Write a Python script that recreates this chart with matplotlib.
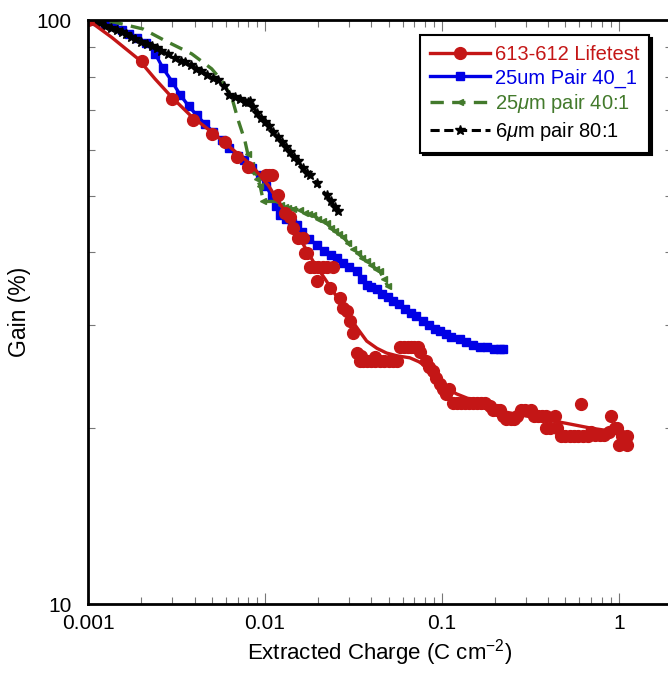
import matplotlib.pyplot as plt
from matplotlib.lines import Line2D

plt.rcParams['font.family'] = ['Liberation Sans', 'DejaVu Sans']
plt.rcParams['mathtext.fontset'] = 'custom'
plt.rcParams['mathtext.rm'] = 'Liberation Sans'
plt.rcParams['mathtext.it'] = 'Liberation Sans:italic'

# 613-612 Lifetest: measured points
red_x = [0.001, 0.00201, 0.00299, 0.00394, 0.0050, 0.00594, 0.00692, 0.00805,
         0.0102, 0.0106, 0.0109, 0.0119, 0.0130, 0.0138, 0.0144, 0.0154, 0.0164,
         0.0168, 0.0172, 0.0179, 0.0190, 0.0200, 0.0212, 0.0225, 0.0243, 0.0196,
         0.0233, 0.0265, 0.0277, 0.0290, 0.0302, 0.0315,
         0.0330, 0.0345, 0.0360, 0.0380, 0.0400, 0.0420, 0.0445, 0.0470, 0.0500,
         0.0530, 0.0560, 0.0350, 0.0420,
         0.0580, 0.0610, 0.0640, 0.0670, 0.0700, 0.0730, 0.0750,
         0.0819, 0.0850, 0.0893, 0.0930, 0.0975, 0.1020, 0.1060, 0.1100,
         0.1160, 0.1220, 0.1280, 0.1350, 0.1420, 0.1500, 0.1580, 0.1670, 0.1750,
         0.1860, 0.1940, 0.2050, 0.2130, 0.2220, 0.2320, 0.2450, 0.2560, 0.2650,
         0.2790, 0.2950, 0.3180, 0.3300, 0.3500, 0.3700, 0.3900, 0.3900, 0.4100,
         0.4340, 0.4500, 0.4700, 0.5000, 0.5300, 0.5600, 0.5900, 0.6120, 0.6300,
         0.6700, 0.7000, 0.7300, 0.7800, 0.8300, 0.8800, 0.9050, 0.9500, 0.9800,
         1.0000, 1.0500, 1.1200, 1.1200]
red_y = [100, 85.2, 73.3, 67.5, 63.9, 61.8, 58.3, 56.1,
         54.2, 54.2, 54.2, 50.1, 46.7, 46.0, 44.0, 42.3, 42.3,
         39.9, 39.9, 37.8, 37.8, 37.8, 37.8, 37.8, 37.8, 35.7,
         34.8, 33.4, 32.1, 31.7, 30.5, 29.1,
         26.9, 26.1, 26.1, 26.1, 26.1, 26.1, 26.1, 26.1, 26.1,
         26.1, 26.1, 26.6, 26.5,
         27.6, 27.6, 27.6, 27.6, 27.6, 27.6, 27.0,
         26.1, 25.5, 25.1, 24.4, 23.8, 23.3, 22.9, 23.3,
         22.1, 22.1, 22.1, 22.1, 22.1, 22.1, 22.1, 22.1, 22.1,
         21.8, 21.5, 21.5, 21.5, 21.0, 20.7, 20.7, 20.7, 21.0,
         21.5, 21.5, 21.5, 21.0, 21.0, 21.0, 21.0, 20.0, 20.0,
         21.0, 20.0, 19.4, 19.4, 19.4, 19.4, 19.4, 22.0, 19.4,
         19.4, 19.7, 19.5, 19.5, 19.5, 19.7, 21.0, 20.0, 20.0,
         18.7, 19.4, 19.4, 18.7]

# 613-612 Lifetest: fitted curve
fit_x = [0.001, 0.00136, 0.00192, 0.0024, 0.00297, 0.0038, 0.0050, 0.0065,
         0.0084, 0.0105, 0.0125, 0.0151, 0.01875, 0.0233, 0.0268, 0.0302,
         0.0340, 0.0376, 0.0430, 0.0487, 0.0560, 0.0659, 0.0740, 0.0819,
         0.0890, 0.0975, 0.1080, 0.121, 0.140, 0.164, 0.190, 0.232, 0.35,
         0.5, 0.7, 1.1]
fit_y = [100, 93.4, 85.8, 79.2, 73.8, 68.6, 64.3, 60.2,
         56.4, 52.0, 47.8, 43.2, 38.6, 35.0, 32.8, 30.9,
         29.4, 28.2, 27.4, 26.9, 26.6, 26.4, 26.0, 25.5,
         24.8, 24.1, 23.4, 22.9, 22.5, 22.3, 21.8, 21.3, 20.8,
         20.4, 20.0, 19.6]

# 25um Pair 40_1
blue_x = [0.001, 0.00112, 0.00125, 0.0014, 0.00155, 0.0017, 0.0019, 0.00214,
          0.0024, 0.00266, 0.0030, 0.00331, 0.0037, 0.00411, 0.0046, 0.0051,
          0.0057, 0.0063, 0.0070, 0.0076, 0.0085, 0.0094, 0.0102, 0.0109,
          0.0115, 0.0122, 0.0132, 0.0142, 0.0151, 0.0163, 0.0178, 0.0196,
          0.0215, 0.0235, 0.0254, 0.0275, 0.0300, 0.0330, 0.0355, 0.0376,
          0.0400, 0.0428, 0.0460, 0.0495, 0.0531, 0.0570, 0.0620, 0.0672,
          0.0719, 0.0780, 0.0850, 0.0915, 0.0975, 0.1050, 0.1130, 0.1265,
          0.1370, 0.1500, 0.1640, 0.1800, 0.1960, 0.2130, 0.2220]
blue_y = [100, 99.5, 98.6, 97.5, 96.2, 94.8, 93.2, 91.4,
          87.5, 82.6, 78.3, 74.5, 71.3, 68.7, 66.3, 64.3,
          62.2, 60.3, 58.5, 57.5, 55.8, 54.2, 52.0, 49.8,
          48.0, 46.4, 45.6, 45.0, 44.6, 43.3, 42.2, 41.2,
          40.2, 39.6, 39.1, 38.4, 37.8, 37.1, 36.0, 35.2,
          34.9, 34.6, 34.0, 33.5, 33.0, 32.6, 32.0, 31.5,
          31.1, 30.5, 30.0, 29.6, 29.3, 29.0, 28.7, 28.4,
          28.1, 27.8, 27.6, 27.5, 27.3, 27.3, 27.3]

# 25um pair 40:1
green_x = [0.001, 0.00142, 0.00205, 0.00272, 0.00386, 0.0050, 0.00569, 0.00649,
           0.00707, 0.0077, 0.0080, 0.0083, 0.0086, 0.0090, 0.0094, 0.0098,
           0.0117, 0.0124, 0.0130, 0.0135, 0.0145, 0.0157, 0.0168, 0.0178,
           0.0188, 0.0200, 0.0212, 0.0223, 0.0237, 0.0250, 0.0263, 0.0277,
           0.0296, 0.0315, 0.0335, 0.0355, 0.0376, 0.0400, 0.0425, 0.0447,
           0.0470, 0.0496]
green_y = [100, 99.1, 96.5, 92.2, 87.5, 82.5, 78.8, 73.8,
           67.3, 62.2, 59.0, 56.5, 55.0, 53.5, 52.0, 48.9,
           48.9, 48.3, 47.9, 47.6, 47.5, 47.3, 46.8, 46.5,
           46.3, 45.7, 45.2, 44.9, 44.0, 43.5, 43.0, 42.5,
           41.5, 40.6, 39.9, 39.2, 38.6, 38.0, 37.5, 37.1,
           36.0, 35.0]
green_dense_from = 10

# 6um pair 80:1
black_x = [0.001, 0.00108, 0.00117, 0.00125, 0.00135, 0.00145, 0.00155, 0.00165,
           0.00175, 0.00185, 0.0020, 0.00215, 0.00229, 0.00245, 0.0026, 0.00284,
           0.0031, 0.00335, 0.00353, 0.0038, 0.0041, 0.00438, 0.0047, 0.0051,
           0.00545, 0.0059, 0.0063, 0.0068, 0.0072, 0.0077, 0.0080, 0.0082,
           0.0086, 0.0090, 0.0095, 0.0100, 0.0105, 0.01114, 0.0118, 0.0125,
           0.0132, 0.01384, 0.0146, 0.0154, 0.0164, 0.0172, 0.0179, 0.0196,
           0.0223, 0.0235, 0.0248, 0.0258]
black_y = [100, 99.5, 98.8, 97.8, 97.0, 96.2, 95.3, 94.5,
           93.6, 92.8, 91.8, 91.0, 90.4, 89.4, 88.5, 87.5,
           86.2, 85.0, 84.7, 83.6, 82.5, 81.9, 80.6, 79.5,
           78.8, 77.2, 74.5, 73.8, 73.2, 72.4, 72.3, 72.8,
           71.0, 69.3, 68.0, 66.8, 65.8, 64.3, 63.0, 61.8,
           60.7, 59.4, 58.3, 57.3, 55.7, 54.8, 54.2, 52.5,
           50.1, 48.9, 47.9, 47.0]

RED = '#c41616'
BLUE = '#0000e6'
GREEN = '#437a2c'

fig = plt.figure(figsize=(6.68, 6.73), dpi=100)
ax = fig.add_axes([88 / 668, 1 - 604 / 673, (672 - 88) / 668, (604 - 20) / 673])

ax.plot(blue_x, blue_y, color=BLUE, lw=2.4, marker='s', ms=5.5)
ax.plot(green_x, green_y, color=GREEN, lw=2.4, ls=(0, (4, 2.5)), marker='<', ms=4,
        markevery=slice(green_dense_from, None))
ax.plot(black_x, black_y, color='black', lw=2.2, ls=(0, (3, 1.5)), marker='*', ms=7)
ax.plot(fit_x, fit_y, color=RED, lw=2.4)
ax.plot(red_x, red_y, color=RED, ls='none', marker='o', ms=8.5)

ax.set_xscale('log')
ax.set_yscale('log')
ax.set_xlim(0.001, 2)
ax.set_ylim(10, 100)
ax.set_yticks([10, 100])
ax.set_yticklabels(['10', '100'])
ax.set_xticks([0.001, 0.01, 0.1, 1])
ax.set_xticklabels(['0.001', '0.01', '0.1', '1'])

for s in ax.spines.values():
    s.set_linewidth(2)
ax.tick_params(which='both', direction='in', top=True, right=True,
               labelsize=15, color='#777777')
ax.tick_params(which='major', length=8, width=0.8)
ax.tick_params(axis='x', which='major', pad=7)
ax.tick_params(axis='y', which='major', pad=12)
ax.tick_params(which='minor', length=5, width=0.8)
ax.tick_params(axis='y', which='minor', labelleft=False)
ax.tick_params(axis='x', which='minor', labelbottom=False)

ax.set_xlabel('Extracted Charge (C cm$^{-2}$)', fontsize=16, labelpad=3)
ax.set_ylabel('Gain (%)', fontsize=16.5, labelpad=4)

handles = [
    Line2D([], [], color=RED, lw=2.4, marker='o', ms=8.5),
    Line2D([], [], color=BLUE, lw=2.4, marker='s', ms=5.5),
    Line2D([], [], color=GREEN, lw=2.4, ls=(0, (4, 2.5)), marker='<', ms=5),
    Line2D([], [], color='black', lw=2.2, ls=(0, (3, 1.5)), marker='*', ms=7),
]
labels = ['613-612 Lifetest', '25um Pair 40_1', r'25$\mu$m pair 40:1', r'6$\mu$m pair 80:1']
leg = ax.legend(handles, labels, loc='upper left', bbox_to_anchor=(420 / 668, 1 - 35 / 673),
                bbox_transform=fig.transFigure, borderaxespad=0, fontsize=14.5,
                fancybox=False, shadow={'color': 'black', 'alpha': 1},
                handlelength=3, handletextpad=0.2, labelspacing=0.22, borderpad=0.5,
                labelcolor='linecolor', numpoints=1)
leg.get_frame().set_edgecolor('black')
leg.get_frame().set_linewidth(1.5)
leg.get_frame().set_alpha(1)

fig.savefig('out.png', dpi=100)
